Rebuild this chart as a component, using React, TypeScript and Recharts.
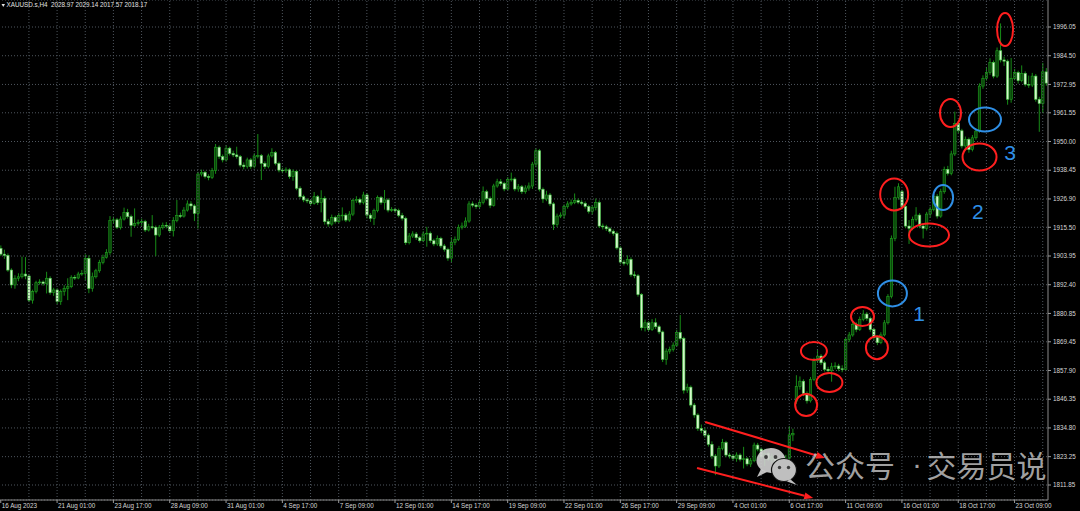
import { Bar, CartesianGrid, ComposedChart, ReferenceDot, ReferenceLine, XAxis, YAxis } from 'recharts';

// XAUUSD H4, one entry per bar from 16 Aug 2023 09:00 to 24 Oct 2023 21:00
const opens = [
  1907.0, 1904.7, 1904.2, 1898.3, 1892.3, 1895.0, 1895.6, 1896.7, 1895.9, 1886.2,
  1889.6, 1893.2, 1893.5, 1892.9, 1895.0, 1889.2, 1890.3, 1885.6, 1889.6, 1890.9,
  1891.6, 1895.4, 1895.1, 1896.7, 1897.0, 1903.0, 1890.9, 1895.6, 1898.0, 1901.3,
  1903.4, 1905.3, 1918.2, 1918.5, 1915.5, 1918.8, 1921.5, 1919.8, 1916.3, 1917.1,
  1917.4, 1917.8, 1914.4, 1915.7, 1915.5, 1912.4, 1915.5, 1916.3, 1916.0, 1914.1,
  1918.2, 1920.2, 1920.0, 1922.4, 1924.9, 1924.1, 1921.1, 1936.9, 1937.6, 1935.9,
  1935.6, 1938.3, 1947.7, 1943.9, 1942.6, 1947.3, 1945.2, 1944.6, 1943.9, 1940.5,
  1939.9, 1942.6, 1939.9, 1944.2, 1944.3, 1941.2, 1939.9, 1944.2, 1945.5, 1941.2,
  1938.5, 1938.3, 1938.6, 1935.9, 1937.9, 1931.2, 1927.8, 1926.5, 1926.1, 1925.1,
  1927.8, 1925.4, 1927.1, 1917.8, 1916.8, 1919.5, 1917.8, 1920.2, 1920.4, 1918.4,
  1920.8, 1926.2, 1926.7, 1925.5, 1928.5, 1920.4, 1919.1, 1922.2, 1927.4, 1925.4,
  1926.5, 1922.4, 1922.6, 1922.2, 1920.3, 1919.1, 1909.3, 1912.0, 1912.8, 1911.3,
  1910.1, 1912.8, 1913.1, 1910.1, 1908.8, 1911.0, 1908.0, 1906.6, 1903.1, 1909.5,
  1910.6, 1915.5, 1916.0, 1918.0, 1924.9, 1924.4, 1923.8, 1925.4, 1929.8, 1927.1,
  1924.3, 1932.1, 1933.8, 1933.1, 1930.9, 1934.8, 1934.9, 1930.9, 1931.8, 1929.8,
  1931.3, 1932.1, 1940.9, 1946.3, 1930.8, 1926.9, 1928.5, 1924.9, 1916.7, 1920.0,
  1920.4, 1923.8, 1924.9, 1925.5, 1926.2, 1925.6, 1925.1, 1923.9, 1921.9, 1923.5,
  1925.4, 1916.0, 1915.7, 1914.9, 1913.9, 1913.0, 1907.2, 1901.5, 1901.0, 1902.6,
  1896.4, 1896.0, 1888.4, 1875.1, 1877.1, 1874.4, 1877.1, 1875.5, 1873.4, 1862.4,
  1865.7, 1866.4, 1868.1, 1873.2, 1870.8, 1850.0, 1851.2, 1844.0, 1840.0, 1834.6,
  1833.7, 1831.9, 1828.2, 1823.5, 1819.5, 1826.6, 1828.9, 1823.9, 1823.5, 1822.6,
  1823.9, 1822.2, 1822.4, 1820.3, 1821.6, 1827.9, 1826.3, 1823.2, 1824.6, 1822.2,
  1823.2, 1820.8, 1821.2, 1821.9, 1822.6, 1832.0, 1845.5, 1851.5, 1853.6, 1848.7,
  1845.7, 1854.3, 1861.8, 1863.7, 1861.0, 1858.4, 1857.8, 1859.4, 1859.7, 1858.6,
  1858.3, 1870.4, 1872.2, 1876.5, 1874.4, 1878.5, 1880.6, 1878.9, 1874.4, 1871.2,
  1869.1, 1872.2, 1877.1, 1887.6, 1911.0, 1927.5, 1929.8, 1923.8, 1916.0, 1915.1,
  1918.7, 1920.4, 1916.0, 1915.1, 1920.8, 1922.7, 1928.0, 1920.0, 1929.8, 1938.8,
  1937.2, 1945.0, 1957.3, 1954.3, 1948.2, 1950.9, 1946.8, 1951.5, 1954.2, 1972.3,
  1975.4, 1977.7, 1981.7, 1976.3, 1986.5, 1982.8, 1982.3, 1967.0, 1975.4, 1977.7,
  1974.5, 1977.4, 1973.0, 1972.7, 1976.3, 1967.0, 1965.3, 1978.0,
];

const highs = [
  1908.2, 1906.5, 1905.0, 1899.0, 1896.2, 1897.0, 1903.7, 1903.5, 1896.5, 1890.4,
  1894.0, 1894.6, 1894.1, 1897.6, 1895.8, 1891.2, 1891.0, 1890.5, 1892.2, 1895.0,
  1896.2, 1896.3, 1897.6, 1898.3, 1904.6, 1904.2, 1897.3, 1898.8, 1902.4, 1904.5,
  1906.7, 1920.0, 1919.8, 1919.2, 1919.9, 1923.4, 1922.9, 1920.6, 1923.1, 1918.6,
  1919.0, 1918.5, 1916.9, 1920.4, 1916.2, 1916.4, 1917.4, 1917.6, 1916.8, 1919.6,
  1926.5, 1921.4, 1923.6, 1926.3, 1926.0, 1924.8, 1937.8, 1938.7, 1938.2, 1936.8,
  1939.4, 1949.0, 1948.4, 1944.8, 1948.5, 1947.9, 1946.3, 1947.9, 1944.6, 1941.6,
  1943.5, 1943.4, 1945.3, 1953.0, 1945.0, 1942.0, 1945.1, 1947.3, 1946.2, 1941.9,
  1939.4, 1939.6, 1939.2, 1938.8, 1938.5, 1932.0, 1928.6, 1927.3, 1926.8, 1929.7,
  1928.5, 1930.4, 1928.0, 1918.9, 1920.6, 1920.2, 1921.3, 1923.5, 1921.2, 1922.0,
  1927.0, 1928.0, 1927.4, 1929.8, 1929.3, 1921.2, 1923.0, 1928.3, 1928.1, 1930.5,
  1927.2, 1923.6, 1923.4, 1923.0, 1921.3, 1919.8, 1913.2, 1913.9, 1913.6, 1912.0,
  1913.9, 1915.7, 1913.8, 1910.9, 1912.2, 1911.7, 1908.8, 1907.3, 1911.5, 1911.8,
  1916.6, 1917.4, 1919.5, 1926.0, 1925.9, 1925.2, 1926.6, 1931.9, 1930.6, 1927.9,
  1933.0, 1935.0, 1934.9, 1933.8, 1935.7, 1937.5, 1935.6, 1932.9, 1932.5, 1932.4,
  1933.5, 1941.8, 1947.3, 1947.0, 1931.5, 1930.2, 1929.3, 1925.6, 1921.0, 1921.5,
  1924.7, 1926.0, 1926.7, 1929.1, 1927.1, 1926.4, 1925.9, 1924.6, 1924.4, 1927.1,
  1926.3, 1917.0, 1916.5, 1915.6, 1914.6, 1913.8, 1907.9, 1902.4, 1904.2, 1903.4,
  1897.8, 1896.7, 1889.0, 1878.4, 1877.8, 1878.6, 1878.9, 1876.3, 1874.0, 1866.8,
  1867.5, 1869.2, 1874.3, 1880.2, 1871.5, 1852.6, 1851.9, 1844.8, 1840.7, 1836.2,
  1834.9, 1832.6, 1829.4, 1824.3, 1827.6, 1830.4, 1829.6, 1824.8, 1824.3, 1825.0,
  1824.6, 1827.2, 1823.1, 1822.7, 1828.9, 1828.8, 1827.0, 1826.4, 1825.3, 1824.5,
  1823.9, 1822.5, 1823.2, 1824.0, 1835.5, 1834.5, 1856.0, 1855.5, 1854.4, 1849.5,
  1855.3, 1863.0, 1866.1, 1864.5, 1861.8, 1859.4, 1861.0, 1861.2, 1860.6, 1860.0,
  1871.3, 1873.4, 1877.6, 1877.3, 1879.6, 1882.2, 1881.4, 1879.6, 1875.1, 1871.9,
  1873.3, 1878.2, 1888.6, 1912.2, 1931.8, 1933.2, 1930.6, 1924.6, 1918.4, 1919.8,
  1923.6, 1921.2, 1917.2, 1921.7, 1923.8, 1929.2, 1928.9, 1931.0, 1939.9, 1940.2,
  1946.3, 1962.0, 1958.3, 1955.1, 1952.0, 1951.6, 1952.6, 1955.3, 1973.4, 1976.6,
  1980.0, 1983.5, 1982.6, 1987.8, 1997.5, 1984.1, 1983.0, 1983.6, 1979.2, 1978.5,
  1980.6, 1978.2, 1976.5, 1977.6, 1977.1, 1968.0, 1981.6, 1979.5,
];

const lows = [
  1903.9, 1902.8, 1897.6, 1891.0, 1890.8, 1893.8, 1894.9, 1894.6, 1885.4, 1884.8,
  1888.9, 1892.4, 1892.0, 1888.9, 1888.4, 1887.9, 1884.6, 1884.3, 1888.0, 1886.2,
  1891.0, 1894.3, 1894.6, 1896.0, 1894.3, 1889.0, 1889.6, 1894.9, 1897.2, 1900.6,
  1902.9, 1904.4, 1916.9, 1914.8, 1914.6, 1918.2, 1919.0, 1911.7, 1915.6, 1916.2,
  1916.1, 1913.6, 1913.8, 1914.7, 1903.9, 1911.6, 1914.6, 1915.0, 1913.2, 1911.8,
  1917.5, 1919.2, 1919.4, 1921.8, 1922.6, 1918.0, 1915.0, 1936.0, 1935.1, 1934.4,
  1934.9, 1937.0, 1943.0, 1941.6, 1941.9, 1944.4, 1943.7, 1943.1, 1939.6, 1938.8,
  1939.1, 1939.0, 1939.2, 1943.2, 1934.5, 1938.9, 1939.2, 1943.6, 1940.4, 1937.6,
  1937.2, 1937.4, 1935.0, 1934.2, 1930.4, 1927.0, 1925.6, 1925.2, 1924.0, 1924.6,
  1924.5, 1921.5, 1916.6, 1915.7, 1916.1, 1917.0, 1917.2, 1918.2, 1917.6, 1917.7,
  1920.0, 1925.3, 1924.6, 1924.7, 1919.0, 1917.7, 1916.4, 1921.5, 1924.6, 1922.6,
  1921.5, 1921.7, 1921.3, 1919.5, 1918.2, 1908.4, 1908.6, 1911.2, 1910.4, 1909.3,
  1909.5, 1907.7, 1909.2, 1907.9, 1908.0, 1907.1, 1905.7, 1902.0, 1901.5, 1908.3,
  1910.0, 1914.6, 1915.3, 1917.3, 1923.5, 1922.9, 1922.8, 1924.7, 1926.3, 1923.2,
  1923.8, 1931.4, 1932.2, 1930.0, 1930.2, 1933.9, 1930.0, 1929.8, 1928.9, 1929.0,
  1930.2, 1930.9, 1939.6, 1929.9, 1925.3, 1926.0, 1924.0, 1914.4, 1915.6, 1919.2,
  1918.9, 1923.0, 1924.2, 1924.8, 1924.8, 1924.3, 1923.0, 1921.0, 1920.6, 1922.3,
  1915.2, 1914.6, 1914.0, 1913.0, 1912.1, 1906.5, 1900.6, 1900.1, 1900.2, 1895.6,
  1895.0, 1887.6, 1874.0, 1873.6, 1873.5, 1873.8, 1874.6, 1872.5, 1861.3, 1860.2,
  1864.6, 1865.5, 1867.4, 1869.9, 1848.6, 1848.9, 1843.0, 1838.9, 1833.6, 1832.7,
  1830.8, 1827.3, 1822.4, 1815.8, 1818.7, 1825.8, 1823.0, 1822.5, 1821.7, 1821.2,
  1821.3, 1818.5, 1819.4, 1819.1, 1821.0, 1825.4, 1822.3, 1819.5, 1821.4, 1820.9,
  1819.9, 1819.3, 1820.4, 1817.0, 1821.8, 1829.5, 1844.5, 1850.2, 1847.6, 1844.6,
  1845.0, 1853.6, 1860.9, 1860.1, 1857.5, 1856.5, 1853.4, 1858.4, 1857.6, 1857.2,
  1857.6, 1869.4, 1871.5, 1873.3, 1873.8, 1877.7, 1877.9, 1873.5, 1870.2, 1868.1,
  1868.5, 1871.6, 1876.4, 1886.9, 1909.9, 1926.6, 1922.7, 1915.1, 1908.8, 1914.3,
  1917.8, 1915.1, 1911.0, 1914.2, 1919.4, 1921.9, 1919.0, 1919.3, 1929.0, 1936.3,
  1936.4, 1944.2, 1953.4, 1947.2, 1947.0, 1945.5, 1946.0, 1950.7, 1953.5, 1971.2,
  1974.5, 1976.8, 1975.4, 1975.6, 1981.8, 1980.4, 1964.8, 1965.6, 1974.6, 1973.3,
  1973.8, 1972.1, 1971.6, 1971.9, 1966.0, 1953.9, 1961.4, 1972.4,
];

const closes = [
  1904.7, 1904.2, 1898.3, 1892.3, 1895.0, 1895.6, 1896.7, 1895.9, 1886.2, 1889.6,
  1893.2, 1893.5, 1892.9, 1895.0, 1889.2, 1890.3, 1885.6, 1889.6, 1890.9, 1891.6,
  1895.4, 1895.1, 1896.7, 1897.0, 1903.0, 1890.9, 1895.6, 1898.0, 1901.3, 1903.4,
  1905.3, 1918.2, 1918.5, 1915.5, 1918.8, 1921.5, 1919.8, 1916.3, 1917.1, 1917.4,
  1917.8, 1914.4, 1915.7, 1915.5, 1912.4, 1915.5, 1916.3, 1916.0, 1914.1, 1918.2,
  1920.2, 1920.0, 1922.4, 1924.9, 1924.1, 1921.1, 1936.9, 1937.6, 1935.9, 1935.6,
  1938.3, 1947.7, 1943.9, 1942.6, 1947.3, 1945.2, 1944.6, 1943.9, 1940.5, 1939.9,
  1942.6, 1939.9, 1944.2, 1944.3, 1941.2, 1939.9, 1944.2, 1945.5, 1941.2, 1938.5,
  1938.3, 1938.6, 1935.9, 1937.9, 1931.2, 1927.8, 1926.5, 1926.1, 1925.1, 1927.8,
  1925.4, 1927.1, 1917.8, 1916.8, 1919.5, 1917.8, 1920.2, 1920.4, 1918.4, 1920.8,
  1926.2, 1926.7, 1925.5, 1928.5, 1920.4, 1919.1, 1922.2, 1927.4, 1925.4, 1926.5,
  1922.4, 1922.6, 1922.2, 1920.3, 1919.1, 1909.3, 1912.0, 1912.8, 1911.3, 1910.1,
  1912.8, 1913.1, 1910.1, 1908.8, 1911.0, 1908.0, 1906.6, 1903.1, 1909.5, 1910.6,
  1915.5, 1916.0, 1918.0, 1924.9, 1924.4, 1923.8, 1925.4, 1929.8, 1927.1, 1924.3,
  1932.1, 1933.8, 1933.1, 1930.9, 1934.8, 1934.9, 1930.9, 1931.8, 1929.8, 1931.3,
  1932.1, 1940.9, 1946.3, 1930.8, 1926.9, 1928.5, 1924.9, 1916.7, 1920.0, 1920.4,
  1923.8, 1924.9, 1925.5, 1926.2, 1925.6, 1925.1, 1923.9, 1921.9, 1923.5, 1925.4,
  1916.0, 1915.7, 1914.9, 1913.9, 1913.0, 1907.2, 1901.5, 1901.0, 1902.6, 1896.4,
  1896.0, 1888.4, 1875.1, 1877.1, 1874.4, 1877.1, 1875.5, 1873.4, 1862.4, 1865.7,
  1866.4, 1868.1, 1873.2, 1870.8, 1850.0, 1851.2, 1844.0, 1840.0, 1834.6, 1833.7,
  1831.9, 1828.2, 1823.5, 1819.5, 1826.6, 1828.9, 1823.9, 1823.5, 1822.6, 1823.9,
  1822.2, 1822.4, 1820.3, 1821.6, 1827.9, 1826.3, 1823.2, 1824.6, 1822.2, 1823.2,
  1820.8, 1821.2, 1821.9, 1822.6, 1832.0, 1832.6, 1851.5, 1853.6, 1848.7, 1845.7,
  1854.3, 1861.8, 1863.7, 1861.0, 1858.4, 1857.8, 1859.4, 1859.7, 1858.6, 1858.3,
  1870.4, 1872.2, 1876.5, 1874.4, 1878.5, 1880.6, 1878.9, 1874.4, 1871.2, 1869.1,
  1872.2, 1877.1, 1887.6, 1911.0, 1927.5, 1931.8, 1923.8, 1916.0, 1915.1, 1918.7,
  1920.4, 1916.0, 1915.1, 1920.8, 1922.7, 1928.0, 1920.0, 1929.8, 1938.8, 1937.2,
  1945.0, 1957.3, 1954.3, 1948.2, 1950.9, 1946.8, 1951.5, 1954.2, 1972.3, 1975.4,
  1977.7, 1981.7, 1976.3, 1986.5, 1982.8, 1982.3, 1967.0, 1975.4, 1977.7, 1974.5,
  1977.4, 1973.0, 1972.7, 1976.3, 1967.0, 1965.3, 1978.0, 1973.5,
];

const timeTickBars = [0, 16, 32, 48, 64, 80, 96, 112, 128, 144, 160, 176, 192, 208, 224, 240, 256, 272, 288];
const timeTickLabels = [
  '16 Aug 2023', '21 Aug 01:00', '23 Aug 17:00', '28 Aug 09:00', '31 Aug 01:00', '4 Sep 17:00',
  '7 Sep 09:00', '12 Sep 01:00', '14 Sep 17:00', '19 Sep 09:00', '22 Sep 01:00', '26 Sep 17:00',
  '29 Sep 09:00', '4 Oct 01:00', '6 Oct 17:00', '11 Oct 09:00', '16 Oct 01:00', '18 Oct 17:00', '23 Oct 09:00',
];
const gridBars = [8, 16, 24, 32, 40, 48, 56, 64, 72, 80, 88, 96, 104, 112, 120, 128, 136, 144, 152, 160, 168, 176, 184, 192, 200, 208, 216, 224, 232, 240, 248, 256, 264, 272, 280, 288, 296];
const priceTicks = [1811.85, 1823.25, 1834.8, 1846.35, 1857.9, 1869.45, 1880.85, 1892.4, 1903.95, 1915.5, 1926.9, 1938.45, 1950.0, 1961.55, 1972.95, 1984.5, 1996.05];

// hand-drawn markup on the screenshot, placed in bar / price units
const redRings = [
  { bar: 228.8, price: 1844.0, rx: 11, ry: 11 },
  { bar: 231.0, price: 1865.7, rx: 13, ry: 9 },
  { bar: 235.4, price: 1853.1, rx: 13, ry: 9.5 },
  { bar: 244.8, price: 1879.6, rx: 11.5, ry: 9.5 },
  { bar: 248.9, price: 1867.1, rx: 11, ry: 11.5 },
  { bar: 253.8, price: 1928.7, rx: 14, ry: 16 },
  { bar: 263.7, price: 1912.4, rx: 20, ry: 11.5 },
  { bar: 269.8, price: 1961.5, rx: 10.5, ry: 14 },
  { bar: 278.05, price: 1943.8, rx: 17, ry: 13.5 },
  { bar: 285.3, price: 1995.0, rx: 8, ry: 16.5 },
];
const blueRings = [
  { bar: 253.3, price: 1888.9, rx: 14.5, ry: 13 },
  { bar: 267.7, price: 1927.5, rx: 10, ry: 12.5 },
  { bar: 279.6, price: 1958.85, rx: 16, ry: 12 },
];
const blueNotes = [
  { bar: 260.9, price: 1881.0, text: '1' },
  { bar: 277.6, price: 1921.65, text: '2' },
  { bar: 286.7, price: 1945.4, text: '3' },
];
const redArrows = [
  [{ x: 200.1, y: 1837.2 }, { x: 234.2, y: 1822.7 }],
  [{ x: 197.8, y: 1818.7 }, { x: 230.8, y: 1806.6 }],
];

const candles = closes.map((close, i) => ({
  i,
  range: [lows[i], highs[i]],
  open: opens[i],
  high: highs[i],
  low: lows[i],
  close,
}));

const labelFont = 'Liberation Sans, Arial, sans-serif';
const gridColor = '#4f565e';
const RED = '#ff1f1f';
const BLUE = '#2f8fe6';
const markText = 'rgba(190,190,190,0.85)';

function Candle(props: any) {
  const { x, y, width, height, payload } = props;
  if (x == null || y == null || !payload) return null;
  const top = Math.min(y, y + height);
  const h = Math.abs(height);
  const span = payload.high - payload.low || 1;
  const toY = (v: number) => top + ((payload.high - v) / span) * h;
  const cx = x + width / 2;
  const up = payload.close >= payload.open;
  const bodyTop = toY(Math.max(payload.open, payload.close));
  const bodyBottom = toY(Math.min(payload.open, payload.close));
  return (
    <g>
      <line x1={cx} x2={cx} y1={top} y2={top + h} stroke="#178c17" strokeWidth={1} />
      <rect
        x={cx - 1.2}
        y={bodyTop}
        width={2.4}
        height={Math.max(bodyBottom - bodyTop, 0.8)}
        fill={up ? '#0b470b' : '#d2f6c9'}
        stroke={up ? '#1fa31f' : '#45c645'}
        strokeWidth={0.6}
      />
    </g>
  );
}

function TimeTick({ x, y, payload }: any) {
  const k = timeTickBars.indexOf(payload.value);
  return (
    <g>
      <line x1={x} x2={x} y1={y} y2={y + 3} stroke="#9a9a9a" />
      <text x={x + 1} y={y + 8} fill="#d6d6d6" fontSize={6.3} fontFamily={labelFont}>
        {timeTickLabels[k]}
      </text>
    </g>
  );
}

const ring = (rx: number, ry: number, color: string) => (p: any) => (
  <ellipse cx={p.cx} cy={p.cy} rx={rx} ry={ry} fill="none" stroke={color} strokeWidth={2} />
);

const note = (text: string) => (p: any) => (
  <text x={p.cx} y={p.cy} textAnchor="middle" dominantBaseline="central" fontSize={21} fill={BLUE} fontFamily={labelFont}>
    {text}
  </text>
);

function Arrow(props: any) {
  const { x1, y1, x2, y2 } = props;
  if ([x1, y1, x2, y2].some((v) => v == null)) return null;
  const a = Math.atan2(y2 - y1, x2 - x1);
  const len = 9;
  const half = 3.5;
  const bx = x2 - len * Math.cos(a);
  const by = y2 - len * Math.sin(a);
  const pts = [
    [x2, y2],
    [bx + half * Math.sin(a), by - half * Math.cos(a)],
    [bx - half * Math.sin(a), by + half * Math.cos(a)],
  ]
    .map((p) => p.join(','))
    .join(' ');
  return (
    <g>
      <line x1={x1} y1={y1} x2={bx} y2={by} stroke={RED} strokeWidth={2} />
      <polygon points={pts} fill={RED} />
    </g>
  );
}

export default function App() {
  return (
    <div style={{ position: 'relative', width: 1080, height: 511, background: '#000', overflow: 'hidden' }}>
      <style>{'body{margin:0;background:#000}'}</style>
      <ComposedChart width={1080} height={511} data={candles} margin={{ top: 0, right: 0, bottom: 0, left: -1 }}>
        <CartesianGrid vertical={false} stroke={gridColor} strokeDasharray="1 2" />
        <XAxis
          dataKey="i"
          type="category"
          ticks={timeTickBars}
          interval={0}
          height={11}
          tickSize={0}
          tickMargin={0}
          tick={<TimeTick />}
          axisLine={{ stroke: '#8a8a8a' }}
        />
        <XAxis xAxisId="n" dataKey="i" type="number" domain={[-0.5, closes.length - 0.5]} allowDataOverflow hide />
        <YAxis
          orientation="right"
          width={32}
          domain={[1805.82, 2006.91]}
          allowDataOverflow
          ticks={priceTicks}
          interval={0}
          tickFormatter={(v: number) => v.toFixed(2)}
          tickSize={3}
          tickMargin={2}
          tickLine={{ stroke: '#9a9a9a' }}
          axisLine={{ stroke: '#8a8a8a' }}
          tick={{ fill: '#d6d6d6', fontSize: 6.3, fontFamily: labelFont }}
        />
        {gridBars.map((b) => (
          <ReferenceLine key={`g${b}`} xAxisId="n" x={b} stroke={gridColor} strokeDasharray="1 2" />
        ))}
        <Bar dataKey="range" shape={<Candle />} isAnimationActive={false} />
        {redArrows.map((seg, k) => (
          <ReferenceLine key={`a${k}`} xAxisId="n" segment={seg} shape={Arrow} ifOverflow="visible" />
        ))}
        {redRings.map((r, k) => (
          <ReferenceDot key={`r${k}`} xAxisId="n" x={r.bar} y={r.price} shape={ring(r.rx, r.ry, RED)} ifOverflow="visible" />
        ))}
        {blueRings.map((r, k) => (
          <ReferenceDot key={`b${k}`} xAxisId="n" x={r.bar} y={r.price} shape={ring(r.rx, r.ry, BLUE)} ifOverflow="visible" />
        ))}
        {blueNotes.map((n) => (
          <ReferenceDot key={`n${n.text}`} xAxisId="n" x={n.bar} y={n.price} shape={note(n.text)} ifOverflow="visible" />
        ))}
      </ComposedChart>

      {/* chart caption */}
      <svg width={6} height={8} style={{ position: 'absolute', left: 0, top: 1 }}>
        <polygon points="1.5,3 5,3 3.25,6" fill="#e0e0e0" />
      </svg>
      <div style={{ position: 'absolute', left: 6.5, top: 1, fontSize: 6.3, lineHeight: '8px', color: '#e2e2e2', fontFamily: labelFont, whiteSpace: 'pre' }}>
        XAUUSD.s,H4  2028.97 2029.14 2017.57 2018.17
      </div>

      {/* WeChat watermark */}
      <svg width={1080} height={511} style={{ position: 'absolute', left: 0, top: 0, pointerEvents: 'none' }}>
        <ellipse cx={771} cy={460.5} rx={14.5} ry={12.5} fill="#d2d2d2" fillOpacity={0.9} />
        <polygon points="761,469 757,477 767,472" fill="#d2d2d2" fillOpacity={0.9} />
        <circle cx={766} cy={457} r={1.9} fill="#3c3c3c" />
        <circle cx={775.5} cy={457} r={1.9} fill="#3c3c3c" />
        <ellipse cx={784} cy={470} rx={12.5} ry={11.5} fill="#bfbfbf" stroke="#111" strokeWidth={1.2} />
        <polygon points="790,479 797,485 787,481.5" fill="#bfbfbf" />
        <circle cx={779.5} cy={467.5} r={1.7} fill="#3c3c3c" />
        <circle cx={788.5} cy={467.5} r={1.7} fill="#3c3c3c" />
      </svg>
      <div style={{ position: 'absolute', left: 805, top: 449, fontSize: 30, lineHeight: '30px', color: markText, fontFamily: 'Noto Sans CJK SC', whiteSpace: 'pre' }}>
        公众号
      </div>
      <div style={{ position: 'absolute', left: 912, top: 449, width: 10, textAlign: 'center', fontSize: 30, lineHeight: '30px', color: markText, fontFamily: 'Liberation Sans, Arial, sans-serif' }}>
        ·
      </div>
      <div style={{ position: 'absolute', left: 926.5, top: 449, fontSize: 30, lineHeight: '30px', color: markText, fontFamily: 'Noto Sans CJK SC', whiteSpace: 'pre' }}>
        交易员说
      </div>
    </div>
  );
}
